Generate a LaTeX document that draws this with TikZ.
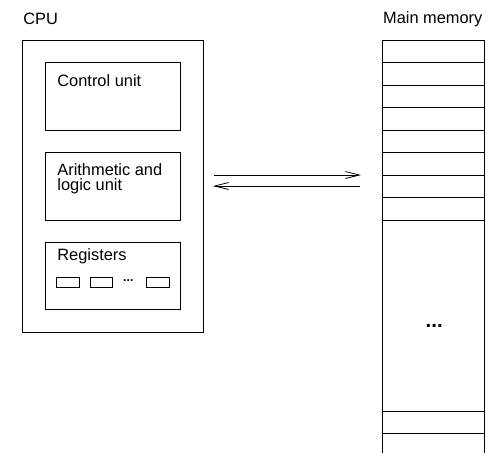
\documentclass[tikz,border=0pt]{standalone}
\usepackage{fontspec}
\setmainfont{Liberation Sans}
\usetikzlibrary{arrows.meta}
\begin{document}
\begin{tikzpicture}[x=1pt,y=-1pt,line width=0.8pt,
  box/.style={draw,rectangle,inner sep=0pt,outer sep=0pt},
  lbl/.style={font=\fontsize{16.4}{15}\selectfont,anchor=base west,inner sep=0pt},
  dots/.style={font=\bfseries\fontsize{#1}{#1}\selectfont,inner sep=0pt,anchor=base},
  arr/.style={-{Straight Barb[length=14pt,width=7pt]},line width=0.8pt},
  reg/.style={box,minimum width=22.3pt,minimum height=9.6pt}]
\useasboundingbox (0,0) rectangle (491,453);
% CPU
\node[lbl] (cpulbl) at (23,24) {CPU};
\node[box,minimum width=180.5pt,minimum height=291.5pt] (cpu) at (112.75,186.25) {};
\node[box,minimum width=135pt,minimum height=67.7pt] (cu) at (113.2,96.15) {};
\node[lbl] (cut) at (57,86) {Control unit};
\node[box,minimum width=135pt,minimum height=67.3pt] (alu) at (113.2,186.35) {};
\node[lbl] (alut1) at (57,175.5) {Arithmetic and};
\node[lbl] (alut2) at (57,190.5) {logic unit};
\node[box,minimum width=135pt,minimum height=67pt] (regs) at (113.2,275.8) {};
\node[lbl] (regt) at (57,260) {Registers};
\node[reg] (r1) at (67.85,282.5) {};
\node[reg] (r2) at (101.7,282.5) {};
\node[dots=12.5] (rd) at (128.3,281.6) {...};
\node[reg] (r3) at (157.85,282.5) {};
% Memory
\node[lbl] (memlbl) at (382.7,23.5) {Main memory};
\coordinate (mtl) at (382.7,40);
\coordinate (mtr) at (484,40);
\coordinate (mbl) at (382.7,453);
\coordinate (mbr) at (484,453);
\draw (mbl) -- (mtl) -- (mtr) -- (mbr);
\foreach \y in {62.5,85,107.5,130,152.5,175,197.5,220,411,433}
  \draw (382.7,\y) -- (484,\y);
\node[dots=20.5] (md) at (434.2,327.2) {...};
% Arrows
\coordinate (a1) at (214,175);
\coordinate (a2) at (361,175);
\coordinate (b1) at (360,186);
\coordinate (b2) at (213,186);
\draw[arr] (a1) -- (a2);
\draw[arr] (b1) -- (b2);
\end{tikzpicture}
\end{document}
